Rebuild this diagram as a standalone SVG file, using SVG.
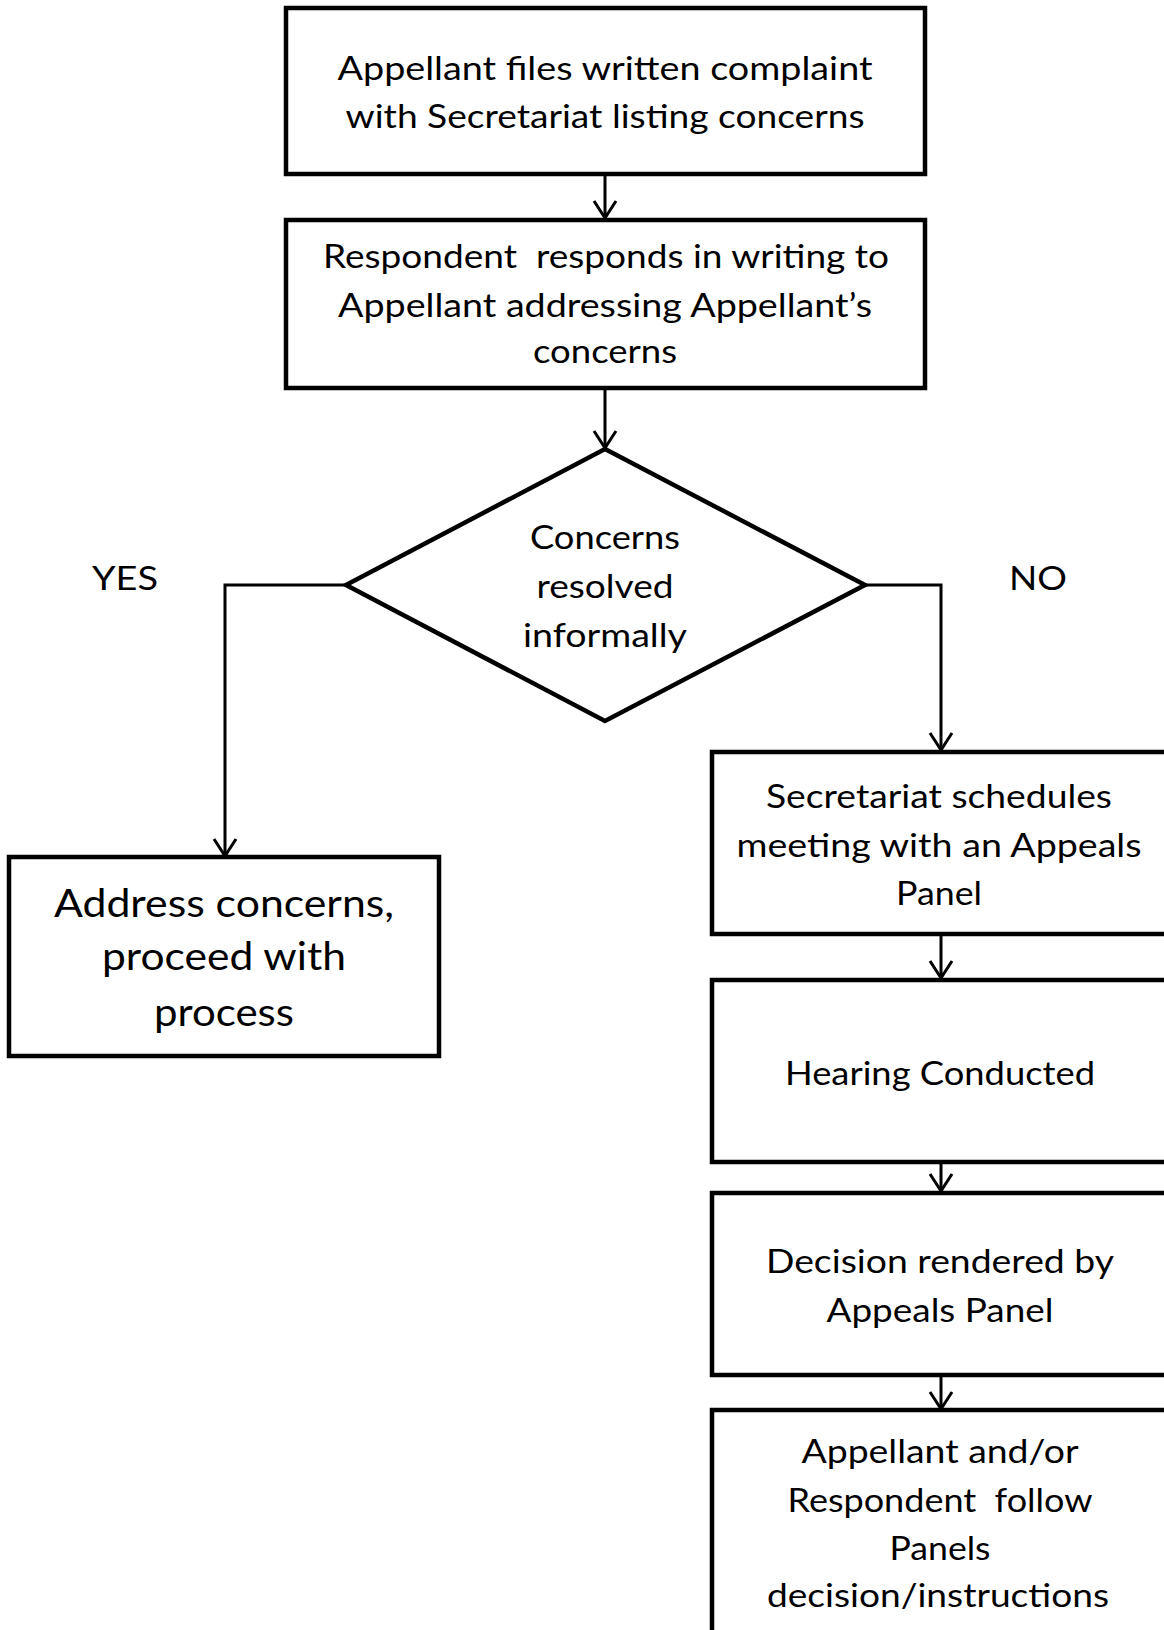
<svg xmlns="http://www.w3.org/2000/svg" width="1164" height="1630" viewBox="0 0 1164 1630">
<defs>
<style>
.box{fill:#fff;stroke:#000;stroke-width:4.5}
.t{font-family:Lato,"Open Sans","Liberation Sans",sans-serif;font-size:33px;fill:#000;text-anchor:middle;white-space:pre}
.big{font-size:39px}
.c{fill:none;stroke:#000;stroke-width:3}
</style>
<marker id="ah" markerUnits="userSpaceOnUse" viewBox="0 0 22 26" refX="19" refY="13" markerWidth="22" markerHeight="26" orient="auto">
<path d="M2,2 L19,13 L2,24" fill="none" stroke="#000" stroke-width="3"/>
</marker>
</defs>
<rect width="1164" height="1630" fill="#fff"/>
<g id="connectors">
<line class="c" x1="605" y1="174" x2="605" y2="218" marker-end="url(#ah)"/>
<line class="c" x1="605" y1="388" x2="605" y2="448" marker-end="url(#ah)"/>
<polyline class="c" points="346,585 225,585 225,856" marker-end="url(#ah)"/>
<polyline class="c" points="865,585 941,585 941,750" marker-end="url(#ah)"/>
<line class="c" x1="941" y1="934" x2="941" y2="978" marker-end="url(#ah)"/>
<line class="c" x1="941" y1="1162" x2="941" y2="1191" marker-end="url(#ah)"/>
<line class="c" x1="941" y1="1375" x2="941" y2="1409" marker-end="url(#ah)"/>
</g>
<g id="n1">
<rect class="box" x="286" y="8" width="639" height="166"/>
<text class="t" x="605" y="80" textLength="535" lengthAdjust="spacingAndGlyphs">Appellant files written complaint</text>
<text class="t" x="605" y="128" textLength="519" lengthAdjust="spacingAndGlyphs">with Secretariat listing concerns</text>
</g>
<g id="n2">
<rect class="box" x="286" y="220" width="639" height="168"/>
<text class="t" x="606" y="268" textLength="566" lengthAdjust="spacingAndGlyphs">Respondent  responds in writing to</text>
<text class="t" x="605" y="317" textLength="534" lengthAdjust="spacingAndGlyphs">Appellant addressing Appellant’s</text>
<text class="t" x="605" y="363" textLength="144" lengthAdjust="spacingAndGlyphs">concerns</text>
</g>
<g id="n3">
<polygon class="box" points="605,449 865,585 605,721 346,585"/>
<text class="t" x="605" y="549" textLength="150" lengthAdjust="spacingAndGlyphs">Concerns</text>
<text class="t" x="605" y="598" textLength="137" lengthAdjust="spacingAndGlyphs">resolved</text>
<text class="t" x="605" y="647" textLength="164" lengthAdjust="spacingAndGlyphs">informally</text>
</g>
<g id="lbl-yes"><text class="t" x="125" y="590" textLength="66" lengthAdjust="spacingAndGlyphs">YES</text></g>
<g id="lbl-no"><text class="t" x="1038" y="590" textLength="58" lengthAdjust="spacingAndGlyphs">NO</text></g>
<g id="n4">
<rect class="box" x="9" y="857" width="430" height="199"/>
<text class="t big" x="224" y="917" textLength="340" lengthAdjust="spacingAndGlyphs">Address concerns,</text>
<text class="t big" x="224" y="970" textLength="244" lengthAdjust="spacingAndGlyphs">proceed with</text>
<text class="t big" x="224" y="1026" textLength="140" lengthAdjust="spacingAndGlyphs">process</text>
</g>
<g id="n5">
<rect class="box" x="712" y="752" width="470" height="182"/>
<text class="t" x="939" y="808" textLength="346" lengthAdjust="spacingAndGlyphs">Secretariat schedules</text>
<text class="t" x="939" y="857" textLength="405" lengthAdjust="spacingAndGlyphs">meeting with an Appeals</text>
<text class="t" x="939" y="905" textLength="86" lengthAdjust="spacingAndGlyphs">Panel</text>
</g>
<g id="n6">
<rect class="box" x="712" y="980" width="470" height="182"/>
<text class="t" x="940" y="1085" textLength="310" lengthAdjust="spacingAndGlyphs">Hearing Conducted</text>
</g>
<g id="n7">
<rect class="box" x="712" y="1193" width="470" height="182"/>
<text class="t" x="940" y="1273" textLength="348" lengthAdjust="spacingAndGlyphs">Decision rendered by</text>
<text class="t" x="940" y="1322" textLength="227" lengthAdjust="spacingAndGlyphs">Appeals Panel</text>
</g>
<g id="n8">
<rect class="box" x="712" y="1410" width="470" height="240"/>
<text class="t" x="940" y="1463" textLength="277" lengthAdjust="spacingAndGlyphs">Appellant and/or</text>
<text class="t" x="940" y="1512" textLength="305" lengthAdjust="spacingAndGlyphs">Respondent  follow</text>
<text class="t" x="940" y="1560" textLength="101" lengthAdjust="spacingAndGlyphs">Panels</text>
<text class="t" x="938" y="1607" textLength="342" lengthAdjust="spacingAndGlyphs">decision/instructions</text>
</g>
</svg>
